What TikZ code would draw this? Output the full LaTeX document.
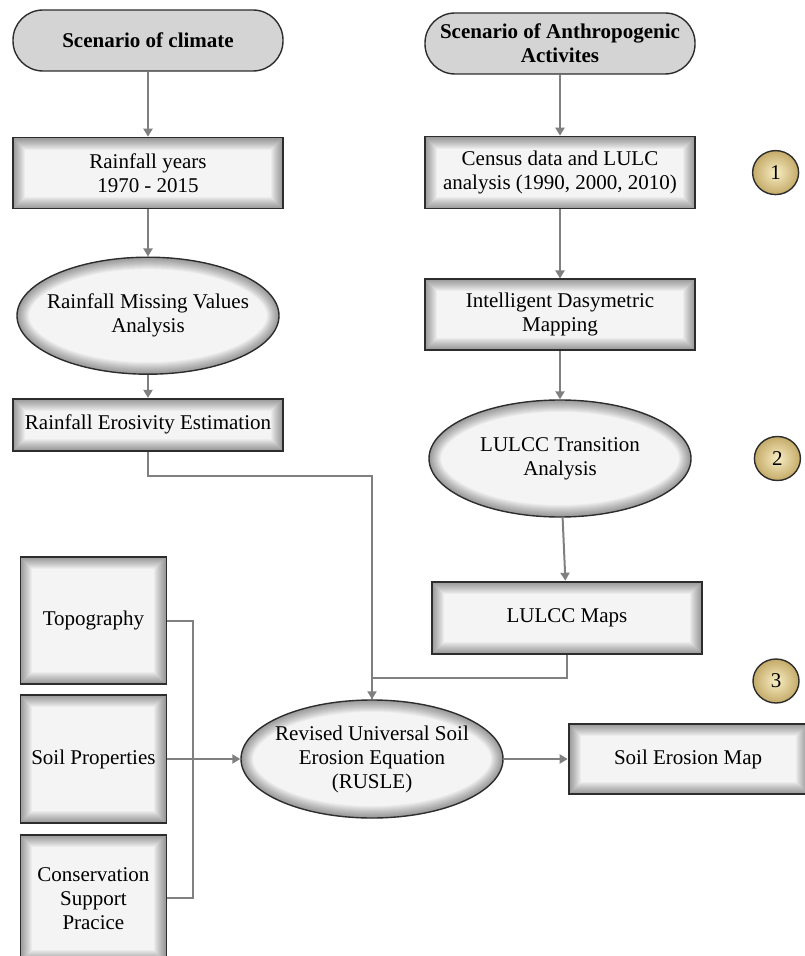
\documentclass[tikz,border=0pt]{standalone}
\usepackage{fontspec}
\setmainfont{Liberation Serif}
\usepackage{tikz}
\usetikzlibrary{positioning,shapes.geometric,arrows.meta,calc}
\definecolor{linkgray}{RGB}{128,128,128}
\definecolor{boxfill}{RGB}{244,244,244}
\definecolor{termfill}{RGB}{212,212,212}
\definecolor{edgedark}{RGB}{45,45,45}
\definecolor{taglight}{RGB}{248,238,196}
\definecolor{tagdark}{RGB}{196,170,104}

\begin{document}
\begin{tikzpicture}[
    font=\fontsize{10.5}{12}\selectfont,
    node distance=30pt,
    terminal/.style={rectangle, rounded corners=15pt, draw=edgedark, line width=0.7pt, fill=termfill, minimum width=135pt, minimum height=30.5pt, align=center, inner xsep=1pt, font=\fontsize{10.5}{12}\selectfont\bfseries},
    process/.style={rectangle, draw=edgedark, line width=0.9pt, fill=boxfill, minimum width=135pt, align=center, inner sep=2pt,
        path picture={\foreach \w in {1,...,12} \draw[black, opacity=0.035, line width=\w pt] (path picture bounding box.south west) rectangle (path picture bounding box.north east);}},
    analysis/.style={ellipse, draw=edgedark, line width=0.7pt, fill=boxfill, minimum width=131pt, minimum height=58.5pt, align=center, inner xsep=-11pt, inner ysep=0pt,
        path picture={\foreach \w in {1,...,12} \draw[black, opacity=0.035, line width=\w pt] let \p1=($(path picture bounding box.north east)-(path picture bounding box.center)$) in (path picture bounding box.center) ellipse [x radius=\x1, y radius=\y1];}},
    tag/.style={ellipse, draw=edgedark, line width=0.7pt, inner color=taglight, outer color=tagdark, minimum width=23pt, minimum height=22pt, inner sep=0pt},
    arrow/.style={-{Triangle[width=4.5pt,length=4pt]}, line width=1pt, linkgray},
    link/.style={line width=1pt, linkgray}
]
\useasboundingbox (0,0) rectangle (402pt,-478pt);

\node[terminal] (clim) at (74pt,-20.25pt) {Scenario of climate};
\node[process, minimum height=35.5pt, below=32.5pt of clim] (rainyrs) {Rainfall years\\1970 - 2015};
\node[analysis, below=23.5pt of rainyrs] (missing) {Rainfall Missing Values\\Analysis};
\node[process, minimum height=26pt, below=11.5pt of missing] (erosiv) {Rainfall Erosivity Estimation};

\node[terminal] (anthro) at (280pt,-21.75pt) {Scenario of Anthropogenic\\Activites};
\node[process, minimum height=36pt, below=30.5pt of anthro] (census) {Census data and LULC\\analysis (1990, 2000, 2010)};
\node[process, minimum height=35.5pt, below=34.5pt of census] (dasym) {Intelligent Dasymetric\\Mapping};
\node[analysis, below=24pt of dasym] (transit) {LULCC Transition\\Analysis};
\node[process, minimum height=36pt, below=31.5pt of transit, xshift=3.5pt] (lulccmaps) {LULCC Maps};

\node[analysis, minimum height=59pt] (rusle) at (186pt,-379.5pt) {Revised Universal Soil\\Erosion Equation\\(RUSLE)};
\node[process, minimum width=73pt, minimum height=64pt, left=36.5pt of rusle] (soilprop) {Soil Properties};
\node[process, minimum width=73pt, minimum height=63.5pt, above=4.5pt of soilprop] (topo) {Topography};
\node[process, minimum width=73pt, minimum height=63.5pt, below=5pt of soilprop] (conserv) {Conservation\\Support\\Pracice};
\node[process, minimum width=119.5pt, minimum height=35pt, right=32pt of rusle] (erosmap) {Soil Erosion Map};

\node[tag, right=28pt of census] (tag1) {1};
\node[tag, right=31pt of transit] (tag2) {2};
\node[tag] (tag3) at (388pt,-340.5pt) {3};

\draw[arrow] (clim) -- (rainyrs);
\draw[arrow] (rainyrs) -- (missing);
\draw[arrow] (missing) -- (erosiv);
\draw[arrow] (anthro) -- (census);
\draw[arrow] (census) -- (dasym);
\draw[arrow] (dasym) -- (transit);
\draw[arrow] (transit) -- (lulccmaps);
\draw[arrow] (erosiv.south) -- ++(0,-12pt) -| (rusle.north);
\draw[link] (lulccmaps.south) -- ++(0,-11.5pt) -| (rusle.north);
\draw[link] (topo.east) -- ++(13pt,0) |- (conserv.east);
\draw[arrow] (soilprop) -- (rusle);
\draw[arrow] (rusle) -- (erosmap);

\end{tikzpicture}
\end{document}
